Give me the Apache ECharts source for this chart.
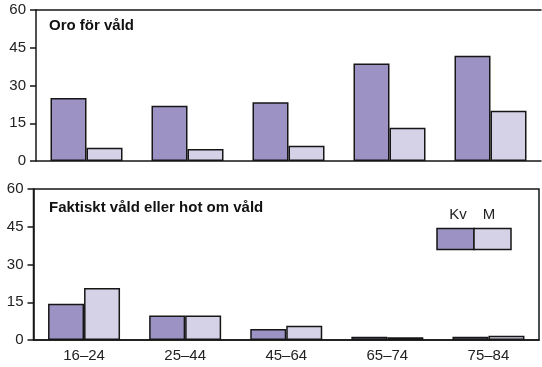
<!DOCTYPE html>
<html>
<head>
<meta charset="utf-8">
<script src="https://cdn.jsdelivr.net/npm/echarts@6/dist/echarts.min.js"></script>
<style>
  html, body { margin: 0; padding: 0; background: #fff; }
  #chart { width: 542px; height: 367px; }
</style>
</head>
<body>
<div id="chart"></div>
<script>
// Age groups
const ageGroups = ['16–24', '25–44', '45–64', '65–74', '75–84'];
const seriesNames = ['Kv', 'M'];

// Panel 1: Oro för våld (%)
const worryWomen = [25.0, 22.0, 23.3, 38.7, 41.8];
const worryMen = [5.3, 4.8, 6.1, 13.2, 20.0];

// Panel 2: Faktiskt våld eller hot om våld (%)
const violenceWomen = [14.4, 9.7, 4.4, 1.3, 1.3];
const violenceMen = [20.7, 9.7, 5.7, 1.1, 1.7];

const yTicks = [0, 15, 30, 45, 60];
const panelTitles = ['Oro för våld', 'Faktiskt våld eller hot om våld'];

const colWomen = '#9c93c4';
const colMen = '#d5d1e6';
const ink = '#161616';
const font = '"Liberation Sans", Arial, Helvetica, sans-serif';

const chart = echarts.init(document.getElementById('chart'), null, { renderer: 'canvas' });

const axisLineStyle = { show: true, onZero: false, lineStyle: { color: ink, width: 1.5 } };

function yAxisFor(gridIndex) {
  return {
    type: 'value', gridIndex, min: yTicks[0], max: yTicks[yTicks.length - 1], interval: 15,
    axisLine: axisLineStyle,
    axisTick: { show: true, length: 6, lineStyle: { color: ink, width: 1.5 } },
    axisLabel: { color: '#222', fontFamily: font, fontSize: 15, margin: 10 },
    splitLine: { show: false }
  };
}

function barSeries(name, data, color, axisIndex) {
  return {
    name, type: 'bar', data,
    xAxisIndex: axisIndex, yAxisIndex: axisIndex,
    barWidth: 36, barGap: '0%',
    itemStyle: { color, borderColor: ink, borderWidth: 1.5 },
    emphasis: { disabled: true },
    silent: true
  };
}

const option = {
  animation: false,
  backgroundColor: '#fff',
  grid: [
    { left: 36, right: 1, top: 10, height: 151, containLabel: false },
    { left: 33.5, right: 3, top: 189, height: 151, containLabel: false,
      show: true, borderColor: ink, borderWidth: 1.5, backgroundColor: 'transparent' }
  ],
  xAxis: [
    { type: 'category', gridIndex: 0, data: ageGroups,
      axisLine: axisLineStyle,
      axisTick: { show: false }, axisLabel: { show: false } },
    { type: 'category', gridIndex: 1, data: ageGroups,
      axisLine: axisLineStyle,
      axisTick: { show: false },
      axisLabel: { color: '#222', fontFamily: font, fontSize: 15, margin: 8 } },
    // top edge line of the upper panel
    { type: 'category', gridIndex: 0, data: ageGroups, position: 'top',
      axisLine: axisLineStyle,
      axisTick: { show: false }, axisLabel: { show: false } }
  ],
  yAxis: [yAxisFor(0), yAxisFor(1)],
  series: [
    barSeries(seriesNames[0], worryWomen, colWomen, 0),
    barSeries(seriesNames[1], worryMen, colMen, 0),
    barSeries(seriesNames[0], violenceWomen, colWomen, 1),
    barSeries(seriesNames[1], violenceMen, colMen, 1)
  ],
  graphic: [
    { type: 'text', left: 49, top: 18,
      style: { text: panelTitles[0], font: 'bold 15px ' + font, fill: '#111' } },
    { type: 'text', left: 49, top: 200,
      style: { text: panelTitles[1], font: 'bold 15px ' + font, fill: '#111' } },
    // legend key
    { type: 'rect', shape: { x: 437, y: 228.5, width: 37, height: 21 },
      style: { fill: colWomen, stroke: ink, lineWidth: 1.5 } },
    { type: 'rect', shape: { x: 474, y: 228.5, width: 37, height: 21 },
      style: { fill: colMen, stroke: ink, lineWidth: 1.5 } },
    { type: 'text', x: 458, y: 215,
      style: { text: seriesNames[0], font: '15px ' + font, fill: '#222', align: 'center', verticalAlign: 'middle' } },
    { type: 'text', x: 489, y: 215,
      style: { text: seriesNames[1], font: '15px ' + font, fill: '#222', align: 'center', verticalAlign: 'middle' } }
  ]
};

chart.setOption(option);
</script>
</body>
</html>
